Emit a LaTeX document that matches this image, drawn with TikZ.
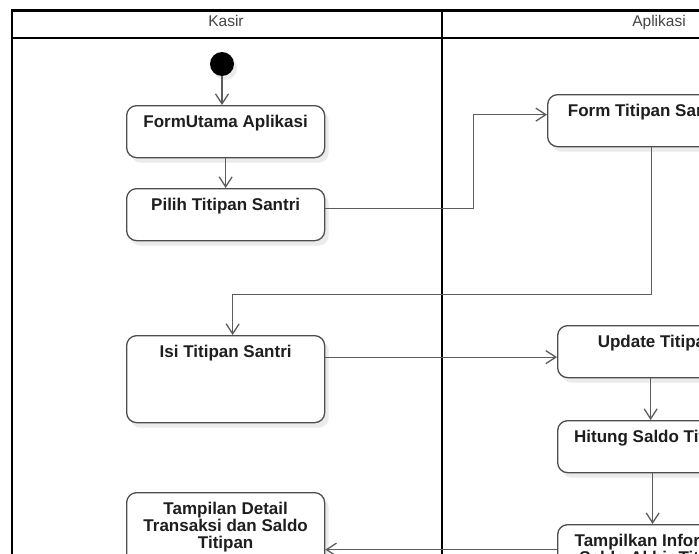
\documentclass[tikz,border=0pt]{standalone}
\usepackage{fontspec}
\setmainfont{Liberation Sans}
\usetikzlibrary{arrows.meta,shadows}
\definecolor{boxline}{HTML}{4D4D4D}
\definecolor{flowline}{HTML}{5C5C5C}
\definecolor{lanetext}{HTML}{454545}
\definecolor{acttext}{HTML}{1E1E1E}
\tikzset{
  act/.style={draw=boxline, line width=1.3pt, rounded corners=10pt, fill=white,
    drop shadow={shadow xshift=4pt, shadow yshift=-5pt, fill=black!8, opacity=1},
    anchor=north west, inner sep=0pt, minimum width=198pt, align=center,
    text height=22pt, text depth=30pt, text=acttext,
    font=\bfseries\fontsize{17pt}{17pt}\selectfont},
  flow/.style={draw=flowline, line width=1.3pt, -{Straight Barb[length=10pt,width=13pt]}},
  lane/.style={font=\fontsize{15.5pt}{16pt}\selectfont, text=lanetext, anchor=base, inner sep=0pt},
  lanerule/.style={line width=2.5pt}
}
\begin{document}
\begin{tikzpicture}[x=1pt,y=-1pt]
\clip (0,0) rectangle (699,554);
\fill [white] (0,0) rectangle (699,554);
\draw [lanerule] (12,10.5) rectangle (876,720);
\draw [lanerule] (12,38) -- (876,38);
\draw [lanerule] (442,10.5) -- (442,720);
\node [lane] (kasir) at (226,26) {Kasir};
\node [lane] (aplikasi) at (659,26) {Aplikasi};
\node [circle, fill=black, minimum size=24pt, inner sep=0pt,
  drop shadow={shadow xshift=3pt, shadow yshift=-4pt, fill=black!8, opacity=1}] (start) at (222,64) {};
\node [act] (utama) at (126,105) {FormUtama Aplikasi};
\node [act] (pilih) at (126,188) {Pilih Titipan Santri};
\node [act, text depth=65pt] (isi) at (126,335) {Isi Titipan Santri};
\node [act, text height=56pt, text depth=31pt] (detail) at (126,492) {Tampilan Detail\\Transaksi dan Saldo\\Titipan};
\node [act, minimum width=196pt] (form) at (547,94) {Form Titipan Santri};
\node [act] (update) at (557,325) {Update Titipan};
\node [act] (hitung) at (557,420) {Hitung Saldo Titipan};
\node [act, text height=39pt, text depth=11pt] (info) at (557,524) {Tampilkan Informasi\\Saldo Akhir Titipan};
\draw [flow] (start) -- (start |- utama.north);
\draw [flow] (utama) -- (pilih);
\draw [flow] ([yshift=6pt]pilih.east) -- ++(148,0) |- ([yshift=6pt]form.west);
\draw [flow] ([xshift=6pt]form.south) -- ++(0,147) -| ([xshift=7pt]isi.north);
\draw [flow] ([yshift=22pt]isi.east) -- ([yshift=22pt]isi.east -| update.west);
\draw [flow] ([xshift=-6pt]update.south) -- ([xshift=-6pt]hitung.north);
\draw [flow] ([xshift=-4pt]hitung.south) -- ([xshift=-4pt]info.north);
\draw [flow] (info.west) -- (info.west -| detail.east);
\end{tikzpicture}
\end{document}
